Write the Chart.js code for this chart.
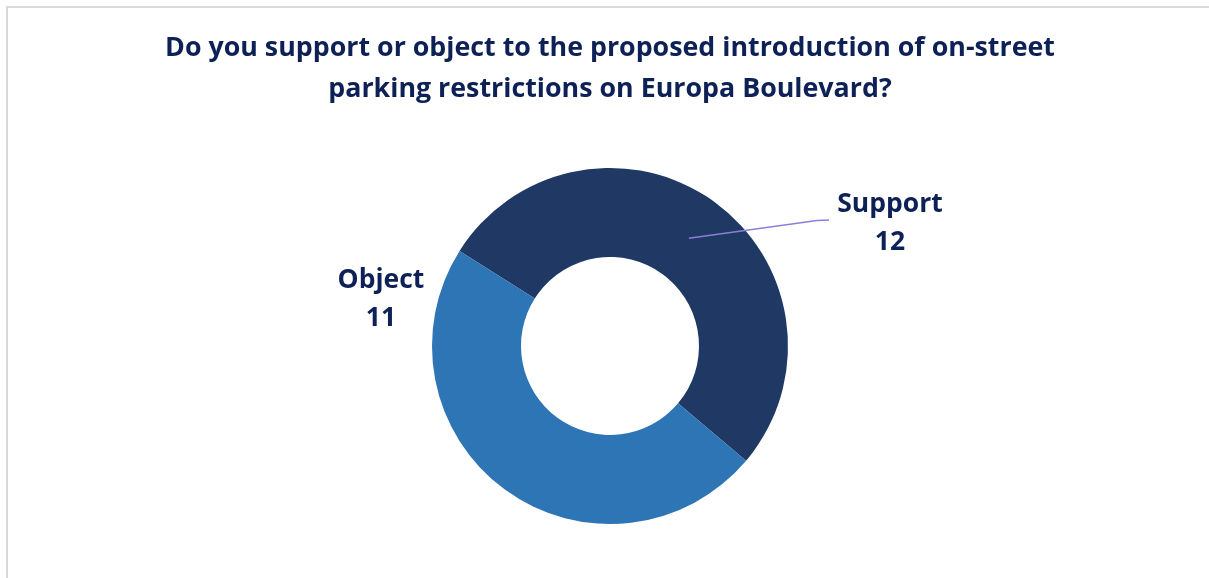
<!DOCTYPE html>
<html>
<head>
<meta charset="utf-8">
<title>Europa Boulevard parking consultation</title>
<script src="https://cdn.jsdelivr.net/npm/chart.js@4.4.0/dist/chart.umd.min.js"></script>
<style>
    html, body { margin: 0; padding: 0; background: #fff; overflow: hidden; }
    #frame {
        position: absolute; left: 6px; top: 6px; width: 1400px; height: 800px;
        border-left: 2px solid #d9d9d9; border-top: 2px solid #d9d9d9;
    }
    #wrap { position: absolute; left: 0; top: 0; width: 1209px; height: 578px; }
</style>
</head>
<body>
<div id="frame"></div>
<div id="wrap"><canvas id="parking_chart"></canvas></div>
<script>
// survey answers
const categories = ['Support', 'Object'];
const responses = [12, 11];
const sliceColors = ['#203864', '#2e75b6'];
const titleLines = [
    'Do you support or object to the proposed introduction of on-street',
    'parking restrictions on Europa Boulevard?'
];

const textColor = '#0e2156';
const fontFamily = '"Open Sans", Lato, sans-serif';

// where each label block sits, in outer-radius units from the centre
// leader: end point of the callout line (null = no line)
const labelPlacement = [
    { dx: 1.573, dy: -0.686, leader: [1.163, -0.705, 1.230, -0.708] },
    { dx: -1.287, dy: -0.264, leader: null }
];

const sliceLabels = {
    id: 'sliceLabels',
    afterDatasetsDraw(chart) {
        const ctx = chart.ctx;
        const meta = chart.getDatasetMeta(0);
        ctx.save();
        meta.data.forEach((arc, i) => {
            const r = arc.outerRadius;
            const place = labelPlacement[i];
            const cx = arc.x + place.dx * r;
            const cy = arc.y + place.dy * r;

            if (place.leader) {
                const start = arc.tooltipPosition();
                ctx.beginPath();
                ctx.strokeStyle = '#8b7fd9';
                ctx.lineWidth = 1.5;
                ctx.moveTo(start.x, start.y);
                ctx.lineTo(arc.x + place.leader[0] * r, arc.y + place.leader[1] * r);
                ctx.lineTo(arc.x + place.leader[2] * r, arc.y + place.leader[3] * r);
                ctx.stroke();
            }

            ctx.fillStyle = textColor;
            ctx.font = 'bold 26.5px ' + fontFamily;
            ctx.textAlign = 'center';
            ctx.textBaseline = 'middle';
            ctx.fillText(chart.data.labels[i], cx, cy - 19);
            ctx.fillText(String(chart.data.datasets[0].data[i]), cx, cy + 19);
        });
        ctx.restore();
    }
};

(() => {
    const canvas = document.querySelector('#parking_chart');

    new Chart(canvas, {
        type: 'doughnut',
        data: {
            labels: categories,
            datasets: [{
                data: responses,
                backgroundColor: sliceColors,
                borderColor: '#ffffff',
                borderWidth: 0,
                hoverOffset: 0
            }]
        },
        options: {
            responsive: true,
            maintainAspectRatio: false,
            animation: false,
            rotation: -57.7,
            cutout: '50%',
            layout: {
                padding: { left: 11, right: 0, top: 0, bottom: 54 }
            },
            plugins: {
                legend: { display: false },
                tooltip: { enabled: false },
                title: {
                    display: true,
                    text: titleLines,
                    color: textColor,
                    font: { family: fontFamily, size: 26.8, weight: 'bold', lineHeight: 41 / 26.8 },
                    padding: { top: 28, bottom: 58 }
                }
            }
        },
        plugins: [sliceLabels]
    });
})();
</script>
</body>
</html>
